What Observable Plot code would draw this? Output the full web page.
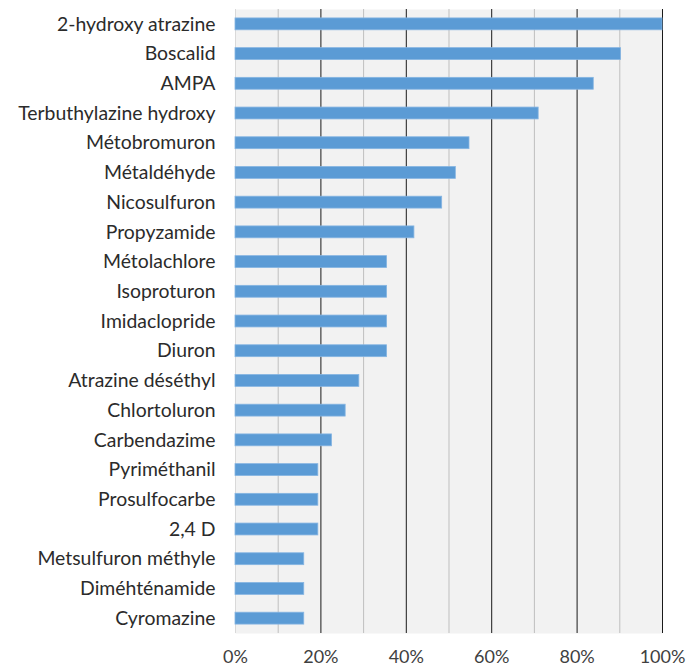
<!DOCTYPE html>
<html>
<head>
<meta charset="utf-8">
<script src="https://cdn.jsdelivr.net/npm/d3@7"></script>
<script src="https://cdn.jsdelivr.net/npm/@observablehq/plot@0.6"></script>
<style>
  html, body { margin: 0; padding: 0; background: #fff; }
  #chart { width: 689px; height: 668px; }
</style>
</head>
<body>
<div id="chart"></div>
<script>
// Substances, from most to least frequently detected
const substances = [
  "2-hydroxy atrazine", "Boscalid", "AMPA", "Terbuthylazine hydroxy",
  "Métobromuron", "Métaldéhyde", "Nicosulfuron", "Propyzamide",
  "Métolachlore", "Isoproturon", "Imidaclopride", "Diuron",
  "Atrazine déséthyl", "Chlortoluron", "Carbendazime", "Pyriméthanil",
  "Prosulfocarbe", "2,4 D", "Metsulfuron méthyle", "Diméhténamide", "Cyromazine"
];

// Detection frequency (share of samples)
const frequencies = [
  1.000, 0.903, 0.839, 0.710,
  0.548, 0.516, 0.484, 0.419,
  0.355, 0.355, 0.355, 0.355,
  0.290, 0.258, 0.226, 0.194,
  0.194, 0.194, 0.161, 0.161, 0.161
];

// Axis ticks
const majorTicks = [0.2, 0.4, 0.6, 0.8, 1.0];
const minorTicks = [0.1, 0.3, 0.5, 0.7, 0.9];
const labelTicks = [0, 0.2, 0.4, 0.6, 0.8, 1.0];

const rows = substances.map((name, i) => ({name, value: frequencies[i]}));

const chart = Plot.plot({
  width: 689,
  height: 668,
  marginLeft: 235,
  marginRight: 27,
  marginTop: 9,
  marginBottom: 35,
  style: {fontFamily: "Lato, 'Open Sans', sans-serif", fontSize: "19px", color: "#404040", background: "#fff"},
  x: {domain: [0, 1], label: null},
  y: {domain: substances, label: null, paddingInner: 0.6, paddingOuter: 0.3, round: false},
  marks: [
    Plot.frame({fill: "#f2f2f2", stroke: null}),
    Plot.gridX(minorTicks, {stroke: "#bfbfbf", strokeOpacity: 1, strokeWidth: 1}),
    Plot.gridX(majorTicks, {stroke: "#1a1a1a", strokeOpacity: 1, strokeWidth: 1}),
    Plot.gridX([0], {stroke: "#d9d9d9", strokeOpacity: 1, strokeWidth: 1}),
    Plot.barX(rows, {x: "value", y: "name", fill: "#5b9bd5", stroke: "#86b5e2", strokeWidth: 0.8}),
    Plot.axisX(labelTicks, {tickFormat: d3.format(".0%"), tickSize: 0, tickPadding: 17, fontSize: 18, fill: "#404040"}),
    Plot.axisY({tickSize: 0, tickPadding: 20, fontSize: 19.4, fill: "#2b2b2b"})
  ]
});

document.getElementById("chart").appendChild(chart);
</script>
</body>
</html>
